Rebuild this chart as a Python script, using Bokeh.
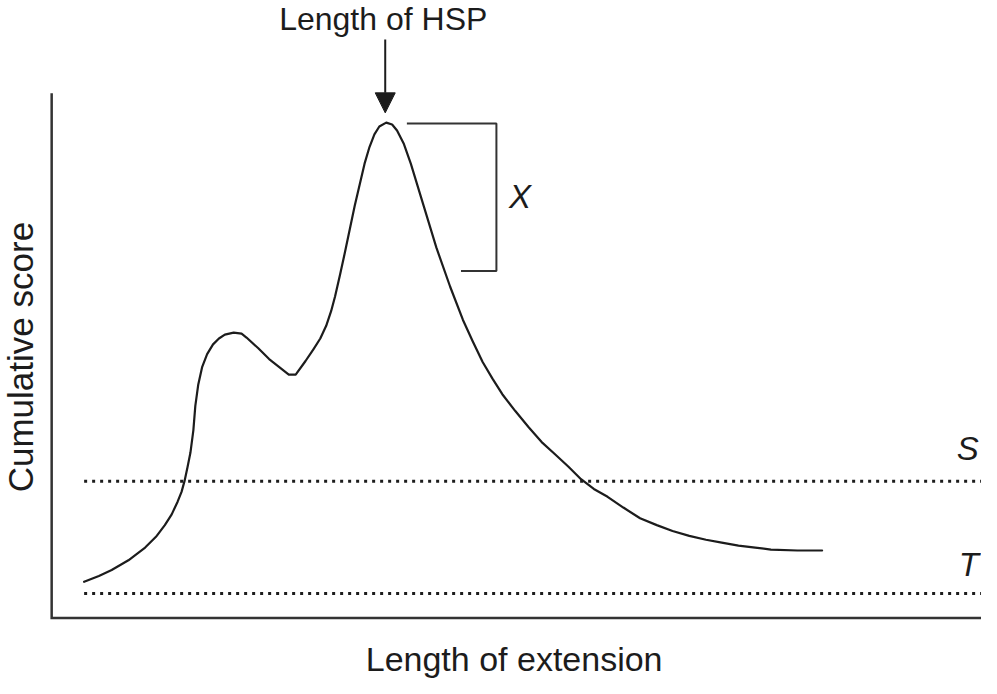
import math
from bokeh.plotting import figure
from bokeh.models import Range1d, Arrow, NormalHead
from bokeh.core.properties import value
from bokeh.embed import file_html
from bokeh.resources import INLINE

# Curve: length of extension vs cumulative score
ext = [33, 48, 61, 78, 95, 106, 115, 122, 128, 132, 135, 138, 141, 144, 146, 149, 153, 158,
       164, 170, 176, 185, 193, 198, 210, 221, 231, 241, 248, 258, 266, 273, 279, 284, 288,
       293, 298, 308, 318, 323, 328, 333, 340, 346, 351, 358, 365, 378, 391, 405, 418, 428,
       438, 448, 458, 471, 485, 498, 511, 525, 538, 551, 565, 581, 598, 615, 631, 648, 665,
       681, 698, 715, 731, 758, 783]
score = [37, 43, 49, 59, 72, 83, 95, 106, 119, 129, 140, 154, 169, 192, 217, 239, 257, 270,
         280, 286, 290, 292, 291, 287, 276, 265, 257, 249, 249, 263, 275, 286, 299, 314, 329,
         351, 374, 422, 465, 482, 495, 503, 507, 505, 499, 485, 465, 422, 379, 339, 305, 283,
         262, 245, 229, 212, 195, 180, 168, 155, 142, 132, 124, 113, 102, 95, 89, 84, 80,
         77, 74, 72, 70, 69, 69]

# Thresholds
thresh_names = ["S", "T"]
thresh_values = [140, 25]
thresh_label_y = [173, 55]
thresh_start = 33
thresh_end = 945

# HSP peak and drop-off X
peak_ext = 339
peak_score = 506
drop_score = 355
bracket_left_top = 361
bracket_left_bottom = 416
bracket_right = 452

axis_top = 537
axis_right = 945

FONT = "Liberation Sans"
INK = "#1c1c1c"

p = figure(width=981, height=678, output_backend="svg", toolbar_location=None,
           x_range=Range1d(-52, 945), y_range=Range1d(-62, 632),
           min_border_left=0, min_border_right=0, min_border_top=0, min_border_bottom=0)
p.outline_line_color = None
p.grid.visible = False
p.axis.visible = False
p.background_fill_color = "white"
p.border_fill_color = "white"

# axes lines
p.line([0, 0, axis_right], [axis_top, 0, 0], line_color="#333333", line_width=2.5,
       line_join="miter")

# axis titles
p.text(x=[-32], y=[267], text=["Cumulative score"], angle=math.pi / 2,
       text_font=value(FONT), text_font_size="35px", text_color=INK,
       text_align="center", text_baseline="middle")
p.text(x=[470], y=[-42], text=["Length of extension"],
       text_font=value(FONT), text_font_size="34px", text_color=INK,
       text_align="center", text_baseline="middle")

# threshold dotted lines
for name, v in zip(thresh_names, thresh_values):
    p.line([thresh_start, thresh_end], [v, v], line_color=INK, line_width=3, line_dash="3 5")

p.text(x=[931, 932], y=thresh_label_y, text=thresh_names,
       text_font=value(FONT), text_font_size="33px", text_font_style="italic",
       text_color=INK, text_align="center", text_baseline="middle")

# curve
p.line(ext, score, line_color=INK, line_width=2.2, line_join="round", line_cap="round")

# bracket for X
p.line([bracket_left_top, bracket_right, bracket_right, bracket_left_bottom],
       [peak_score, peak_score, drop_score, drop_score], line_color="#333333", line_width=2)
p.text(x=[476], y=[(peak_score + drop_score) / 2 + 1], text=["X"],
       text_font=value(FONT), text_font_size="33px", text_font_style="italic",
       text_color=INK, text_align="center", text_baseline="middle")

# arrow + label
p.add_layout(Arrow(end=NormalHead(size=20, fill_color=INK, line_color=INK),
                   x_start=peak_ext, y_start=592, x_end=peak_ext, y_end=517,
                   line_color=INK, line_width=2))
p.text(x=[337], y=[613], text=["Length of HSP"],
       text_font=value(FONT), text_font_size="32px",
       text_color=INK, text_align="center", text_baseline="middle")

open("out.html", "w").write(file_html(p, INLINE))
